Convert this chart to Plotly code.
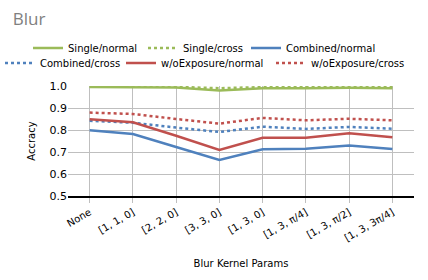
import plotly.graph_objects as go

categories = ["None", "[1, 1, 0]", "[2, 2, 0]", "[3, 3, 0]", "[1, 3, 0]", "[1, 3, π/4]", "[1, 3, π/2]", "[1, 3, 3π/4]"]
single_normal = [0.995, 0.995, 0.993, 0.980, 0.990, 0.990, 0.992, 0.990]
single_cross = [0.997, 0.997, 0.996, 0.990, 0.995, 0.995, 0.996, 0.994]
combined_normal = [0.799, 0.782, 0.723, 0.664, 0.712, 0.715, 0.730, 0.714]
combined_cross = [0.842, 0.833, 0.811, 0.791, 0.815, 0.805, 0.814, 0.806]
woexp_normal = [0.849, 0.835, 0.774, 0.709, 0.765, 0.765, 0.785, 0.767]
woexp_cross = [0.879, 0.873, 0.850, 0.829, 0.855, 0.844, 0.851, 0.844]

GREEN = "#9BBB59"
BLUE = "#4F81BD"
RED = "#C0504D"
FONT = "DejaVu Sans"
W, H = 428, 280

# (name, values, color, dash, legend id, legend text x px, legend row y px)
series = [
    ("Single/normal", single_normal, GREEN, "solid", "legend", 68, 48),
    ("Single/cross", single_cross, GREEN, "dot", "legend2", 183, 48),
    ("Combined/normal", combined_normal, BLUE, "solid", "legend3", 286, 48),
    ("Combined/cross", combined_cross, BLUE, "dot", "legend4", 35, 63),
    ("w/oExposure/normal", woexp_normal, RED, "solid", "legend5", 161, 63),
    ("w/oExposure/cross", woexp_cross, RED, "dot", "legend6", 311, 63),
]

fig = go.Figure()
legends = {}
for name, vals, color, dash, lg, tx, ty in series:
    fig.add_trace(go.Scatter(
        x=categories, y=vals, name=name, mode="lines",
        line=dict(color=color, width=2.5, dash=dash),
        legend=lg, showlegend=True,
    ))
    legends[lg] = dict(
        orientation="h", xanchor="left", x=(tx - 40) / W,
        yanchor="middle", y=1 - ty / H,
        xref="container", yref="container",
        font=dict(family=FONT, size=10, color="#000000"),
        bgcolor="rgba(0,0,0,0)", borderwidth=0, visible=True,
    )

fig.update_layout(
    width=W, height=H, showlegend=True,
    margin=dict(l=68, r=14, t=86, b=84, autoexpand=False),
    paper_bgcolor="white", plot_bgcolor="white",
    title=dict(text="Blur", x=0.03, xanchor="left", y=0.955, yanchor="top",
               xref="container", yref="container",
               font=dict(family="Open Sans", size=17, color="#808080")),
    font=dict(family=FONT, size=10, color="#000000"),
    xaxis=dict(
        type="category", range=[-0.5, 7.5], tickangle=-30,
        showgrid=True, gridcolor="#BFBFBF", gridwidth=1,
        ticks="outside", ticklen=5, tickcolor="#BFBFBF",
        showline=True, linecolor="#000000", linewidth=1.5,
        tickfont=dict(family=FONT, size=10),
        title=dict(text="Blur Kernel Params", font=dict(family=FONT, size=10), standoff=18),
    ),
    yaxis=dict(
        range=[0.5, 1.0], dtick=0.1, tickformat=".1f",
        showgrid=True, gridcolor="#BFBFBF", gridwidth=1,
        zeroline=False, showline=False,
        tickfont=dict(family=FONT, size=11),
        title=dict(text="Accracy", font=dict(family=FONT, size=10), standoff=12),
    ),
    **legends,
)

fig.write_html("out.html", config={"displayModeBar": False},
               post_script="document.body.style.margin='0';")
